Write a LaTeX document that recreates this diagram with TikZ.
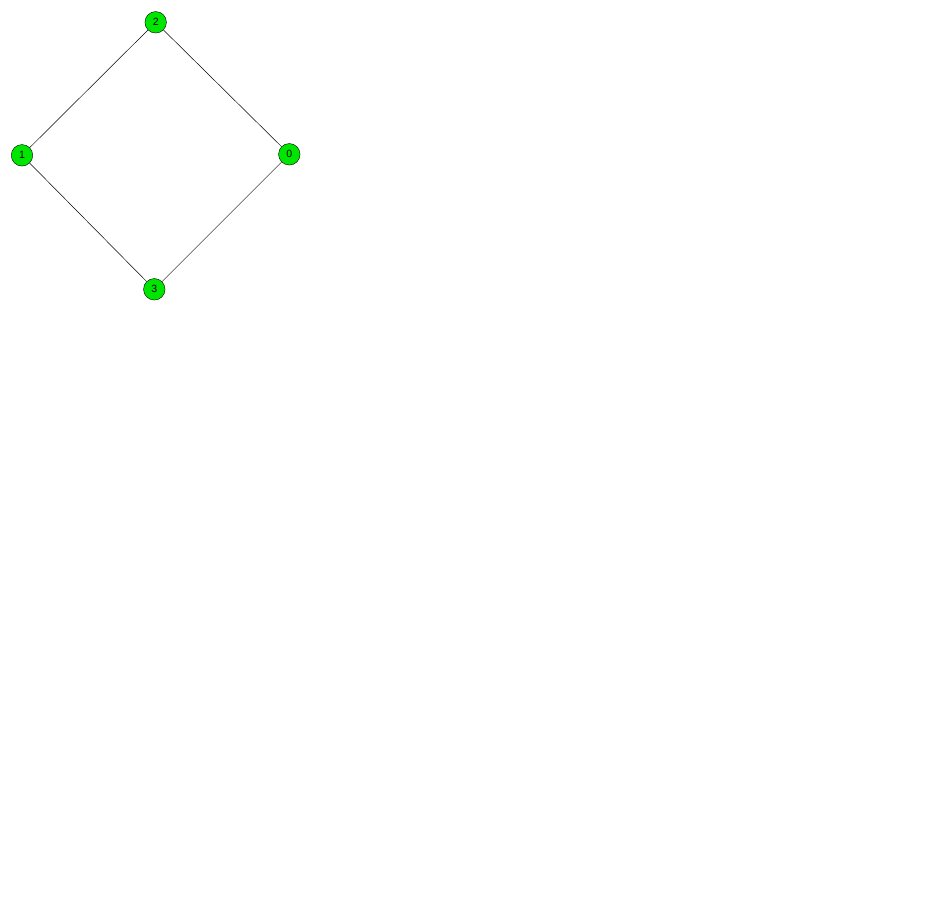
\documentclass[tikz,border=0pt]{standalone}
\usepackage{fontspec}
\setmainfont{Liberation Sans}
\begin{document}
\begin{tikzpicture}[x=1pt,y=-1pt,
  vnode/.style={circle,draw=black,fill={rgb,255:red,0;green,230;blue,0},minimum size=21.5pt,inner sep=0pt,font=\fontsize{10.5}{12}\selectfont},
  edge/.style={draw=black,line width=0.5pt}]
\useasboundingbox[fill=white] (0,0) rectangle (924,924);
\node[vnode] (n2) at (155.7,22.3) {2};
\node[vnode] (n1) at (22,155.3) {1};
\node[vnode] (n0) at (289.3,154.3) {0};
\node[vnode] (n3) at (154.3,289.3) {3};
\draw[edge] (n2) -- (n1);
\draw[edge] (n2) -- (n0);
\draw[edge] (n1) -- (n3);
\draw[edge] (n0) -- (n3);
\end{tikzpicture}
\end{document}
